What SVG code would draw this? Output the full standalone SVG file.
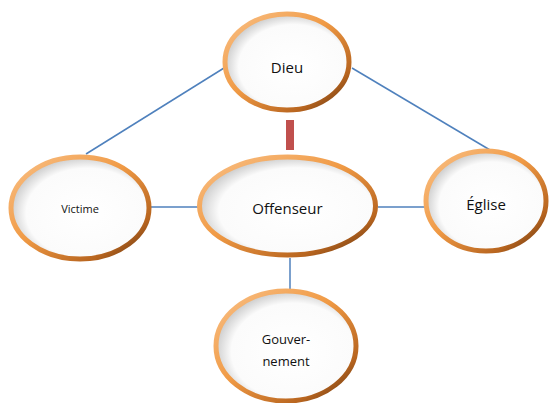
<svg xmlns="http://www.w3.org/2000/svg" width="549" height="403" viewBox="0 0 549 403">
<defs>
<linearGradient id="ring" x1="0" y1="0" x2="1" y2="1">
<stop offset="0" stop-color="#f9c086"/>
<stop offset="0.45" stop-color="#f09a45"/>
<stop offset="0.8" stop-color="#b8651f"/>
<stop offset="1" stop-color="#5a3010"/>
</linearGradient>
<radialGradient id="face" cx="0.55" cy="0.55" r="0.55">
<stop offset="0" stop-color="#ffffff"/>
<stop offset="0.8" stop-color="#fbfbfb"/>
<stop offset="1" stop-color="#cfcfcf"/>
</radialGradient>
<style>
.node ellipse{fill:url(#face);stroke:url(#ring);stroke-width:5}
.conn line{stroke:#4f81bd;stroke-width:1.5}
text{font-family:"Open Sans","Liberation Sans",sans-serif;fill:#111;text-anchor:middle}
</style>
</defs>
<rect width="549" height="403" fill="#ffffff"/>
<g id="connectors" class="conn">
<line x1="224" y1="68" x2="86" y2="154"/>
<line x1="352" y1="68" x2="490" y2="150"/>
<line x1="150" y1="207" x2="198" y2="207"/>
<line x1="378" y1="207" x2="425" y2="207"/>
<line x1="290" y1="258" x2="290" y2="290"/>
<rect x="286" y="120" width="8" height="30" fill="#c0504d"/>
</g>
<g id="dieu" class="node">
<ellipse cx="287" cy="62" rx="62" ry="48"/>
<text x="287" y="73" font-size="15">Dieu</text>
</g>
<g id="offenseur" class="node">
<ellipse cx="287.5" cy="206" rx="88" ry="49"/>
<text x="287.5" y="214" font-size="15">Offenseur</text>
</g>
<g id="victime" class="node">
<ellipse cx="80" cy="208" rx="69" ry="51"/>
<text x="80" y="213" font-size="11">Victime</text>
</g>
<g id="eglise" class="node">
<ellipse cx="486" cy="201" rx="60" ry="50"/>
<text x="486" y="210" font-size="15">Église</text>
</g>
<g id="gouvernement" class="node">
<ellipse cx="286" cy="346" rx="70" ry="55"/>
<text x="286" y="344" font-size="13">Gouver-</text>
<text x="286" y="366" font-size="13">nement</text>
</g>
</svg>
